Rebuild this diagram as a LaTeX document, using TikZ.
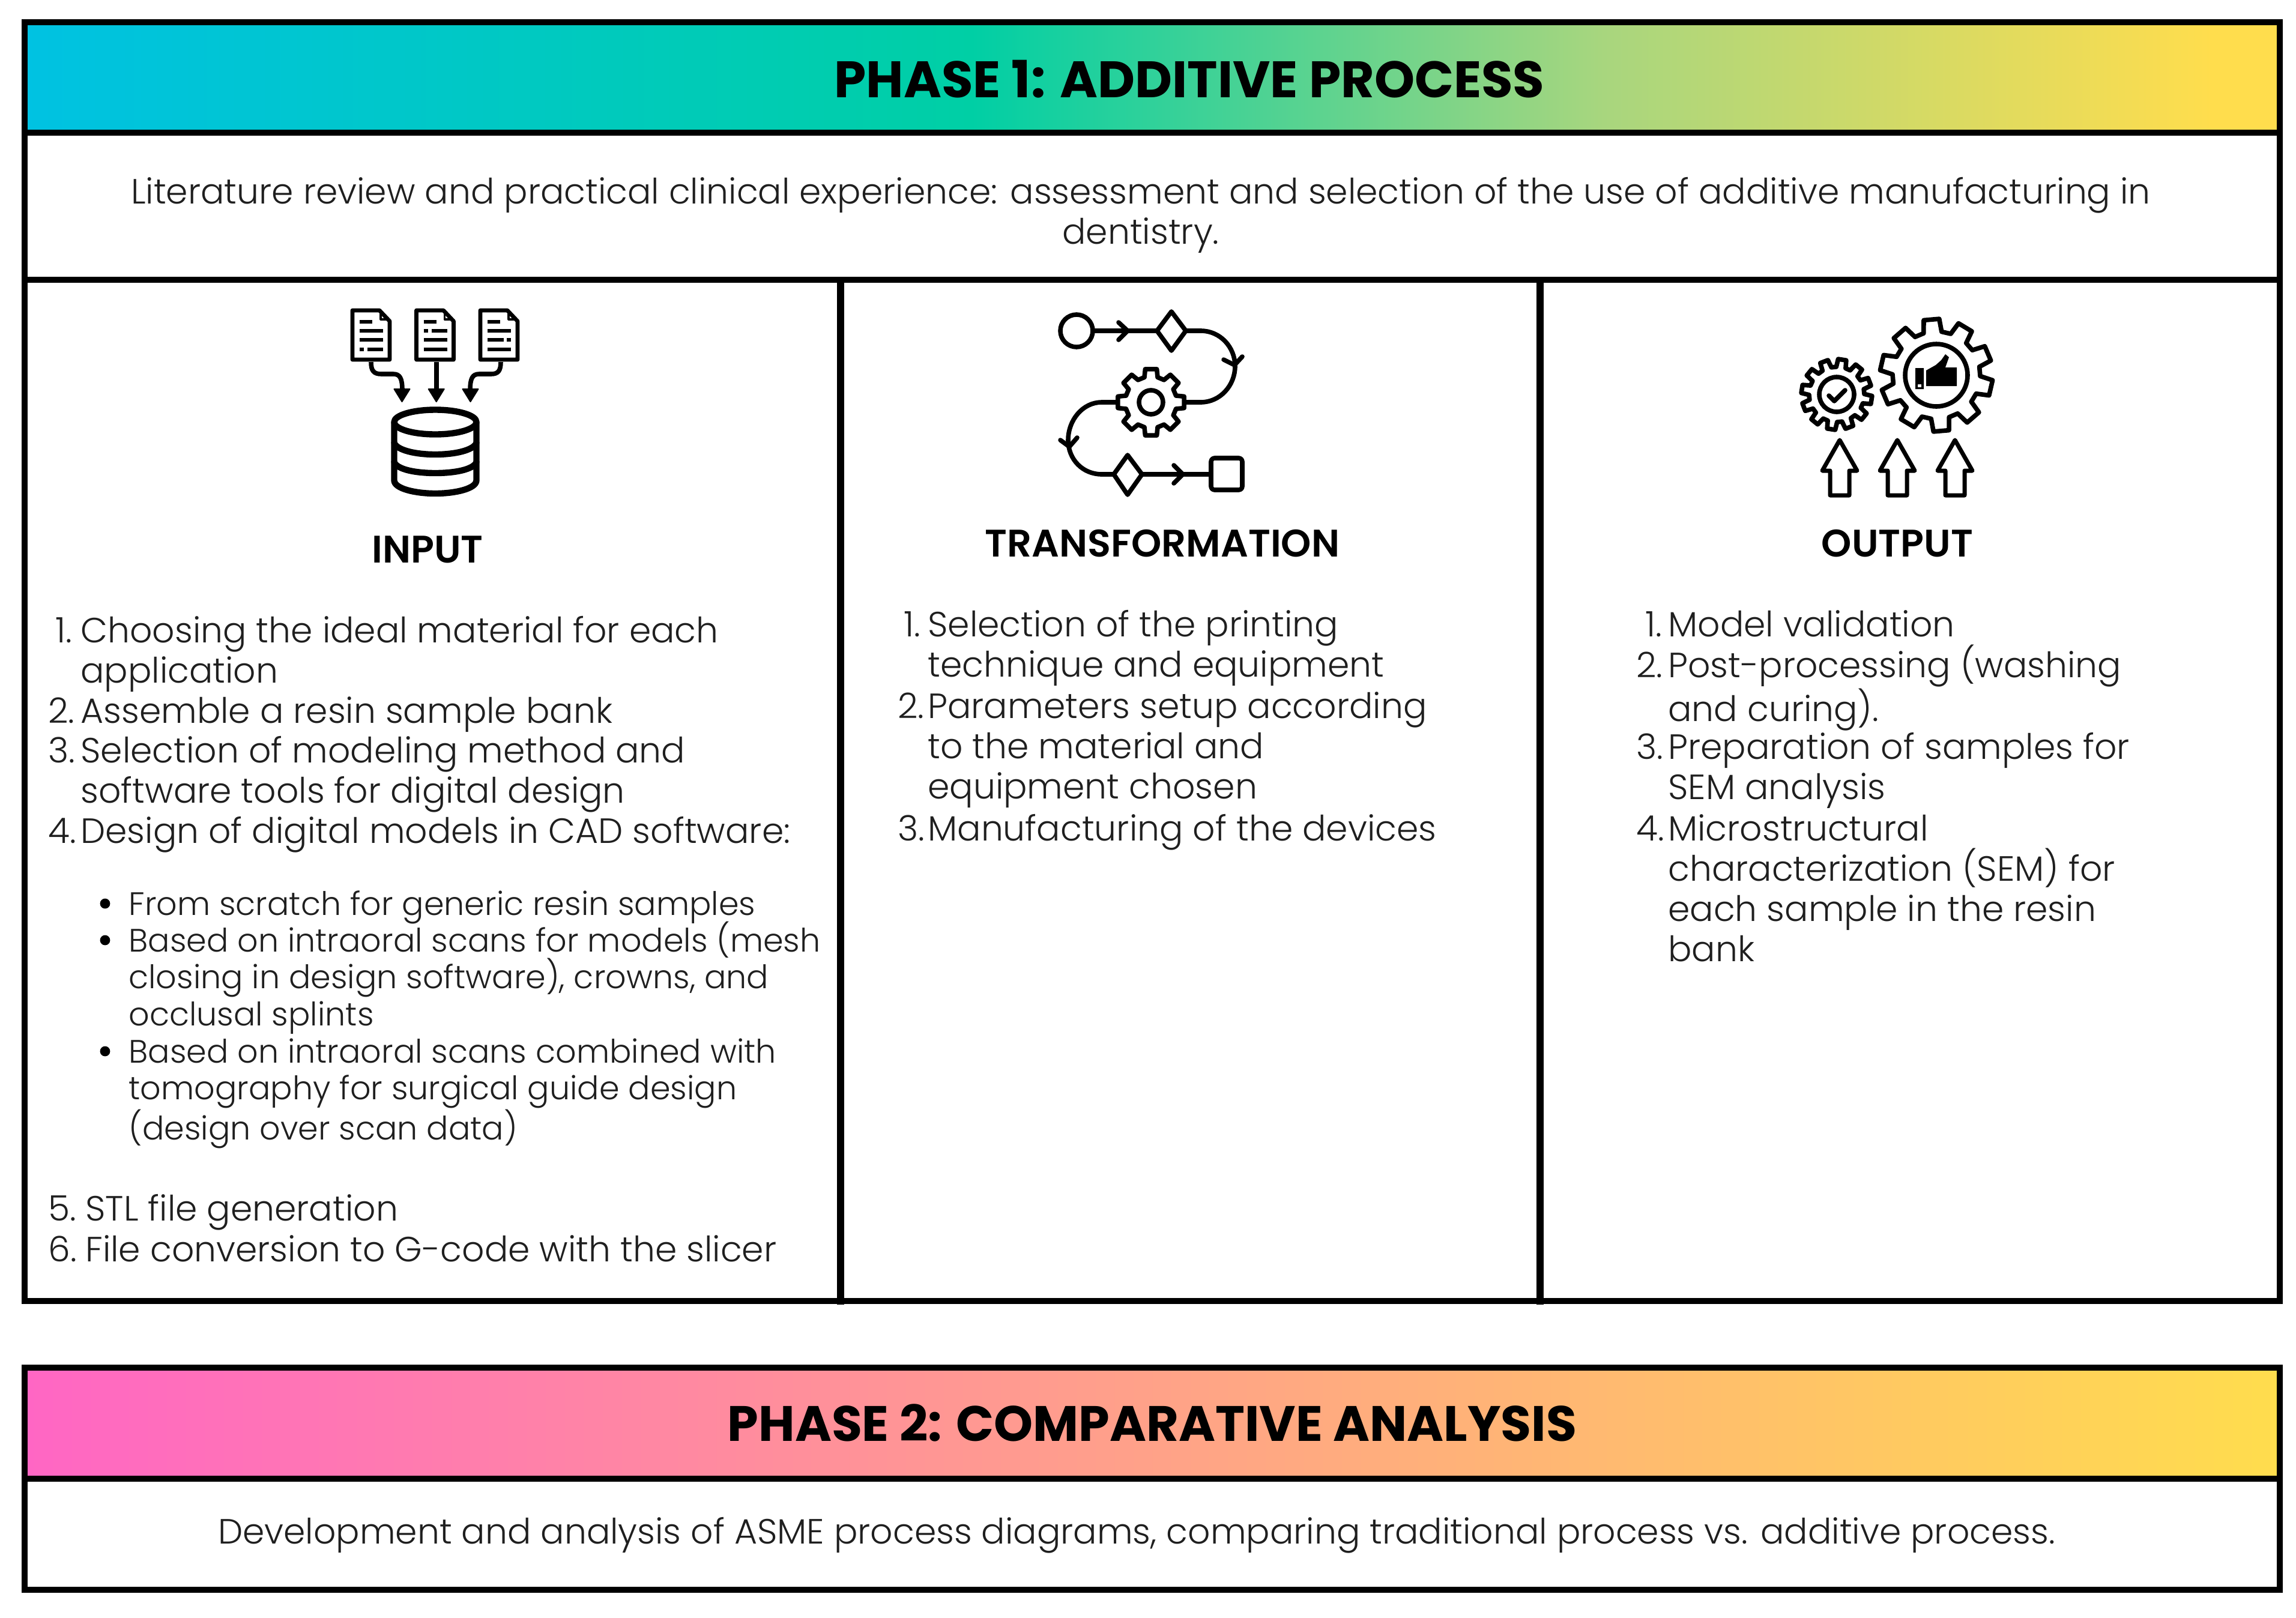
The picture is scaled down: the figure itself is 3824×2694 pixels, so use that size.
\documentclass[tikz,border=0pt]{standalone}
\usepackage{fontspec}
\setmainfont{Poppins}[UprightFont={* Light},BoldFont={* SemiBold}]
\newfontfamily\headfont{Poppins}[UprightFont={* Bold}]
\newfontfamily\subfont{Poppins}[UprightFont={* SemiBold}]
\usetikzlibrary{calc}
\definecolor{aCyan}{HTML}{00C2E2}
\definecolor{aGreen}{HTML}{00CFA5}
\definecolor{aLime}{HTML}{A8D67E}
\definecolor{aYellow}{HTML}{FFDD4D}
\definecolor{bPink}{HTML}{FF66C4}
\pgfdeclarehorizontalshading{phaseone}{100bp}{color(0bp)=(aCyan); color(25bp)=(aCyan); color(46bp)=(aGreen); color(60bp)=(aLime); color(73.5bp)=(aYellow); color(100bp)=(aYellow)}
\pgfdeclarehorizontalshading{phasetwo}{100bp}{color(0bp)=(bPink); color(25bp)=(bPink); color(75bp)=(aYellow); color(100bp)=(aYellow)}
\tikzset{
  x=0.5pt,y=-0.5pt,
  frameline/.style={line width=5pt,black,line cap=butt},
  icon/.style={line width=3.8pt,black,line join=round,line cap=round},
  thinicon/.style={line width=3.4pt,black,line join=round,line cap=butt},
  bodytext/.style={font=\fontsize{29.2}{33.5}\selectfont,inner sep=0pt,anchor=north west,align=left,text=black!88},
  bullettext/.style={bodytext,font=\fontsize{27}{30.7}\selectfont},
  centertext/.style={inner sep=0pt,font=\fontsize{29.2}{33.5}\selectfont,align=center,text=black!88},
  headtext/.style={inner sep=0pt,font=\headfont\fontsize{42}{48}\selectfont},
  subtext/.style={inner sep=0pt,font=\subfont\fontsize{32}{38}\selectfont}
}
% numbered item: name, number x, text x, first-line centre y, number, text
\newcommand{\listitem}[6]{%
  \node[bodytext] (#1n) at (#2,#4-37) {\rule{0pt}{1em}#5};
  \node[bodytext] (#1) at (#3,#4-37) {\rule{0pt}{1em}#6};}
\newcommand{\bulletitem}[4]{%
  \fill (#2-39,#3) circle (4.2pt);
  \node[bullettext] (#1) at (#2,#3-35) {\rule{0pt}{1em}#4};}
% gear: cx, cy, outer r, inner r, teeth, rotation
\newcommand{\gearshape}[6]{%
  \pgfmathsetmacro{\gstep}{360/#5}
  \draw[icon] ($(#1,#2)+({#6-0.22*\gstep}:#3)$)
    \foreach \k in {1,...,#5}{
      -- ($(#1,#2)+({#6+(\k-1)*\gstep-0.22*\gstep}:#3)$)
      -- ($(#1,#2)+({#6+(\k-1)*\gstep+0.22*\gstep}:#3)$)
      -- ($(#1,#2)+({#6+(\k-1)*\gstep+0.33*\gstep}:#4)$)
      -- ($(#1,#2)+({#6+(\k-1)*\gstep+0.67*\gstep}:#4)$)
    } -- cycle;}
% document icon outline: left x, top y
\newcommand{\docicon}[2]{%
  \draw[thinicon] (#1,#2) -- (#1+45,#2) -- (#1+62,#2+18) -- (#1+62,#2+82) -- (#1,#2+82) -- cycle;
  \draw[icon,line width=1.6pt] (#1+47,#2+6) -- (#1+47,#2+15) -- (#1+56,#2+15);
  \draw[thinicon] (#1+12,#2+19) -- (#1+33,#2+19);}
% full text line of the document icons
\newcommand{\docline}[3]{\draw[thinicon] (#1,#3) -- (#2,#3);}
\begin{document}
\begin{tikzpicture}
\useasboundingbox (0,0) rectangle (3824,2694);
\fill[white] (0,0) rectangle (3824,2694);
% gradients
\shade[shading=phaseone] (41,37) rectangle (3797,220);
\shade[shading=phasetwo] (41,2278) rectangle (3797,2462);
% frames
\draw[frameline] (41,37) rectangle (3797,2166.5);
\draw[frameline] (41,2278) rectangle (3797,2648);
\draw[frameline] (38,220.5) -- (3801,220.5);
\draw[frameline] (38,465.5) -- (3801,465.5);
\draw[frameline] (38,2462.5) -- (3801,2462.5);
\draw[frameline,line width=6pt] (1400,465) -- (1400,2173);
\draw[frameline,line width=6pt] (2565,465) -- (2565,2173);
% titles
\node[headtext,font=\headfont\fontsize{42.7}{48}\selectfont] (p1) at (1981,132) {PHASE 1: ADDITIVE PROCESS};
\node[headtext,font=\headfont\fontsize{41.4}{48}\selectfont] (p2) at (1919,2370) {PHASE 2: COMPARATIVE ANALYSIS};
\node[centertext] (lit) at (1900,358) {Literature review and practical clinical experience: assessment and selection of the use of additive manufacturing in\\dentistry.};
\node[centertext] (dev) at (1893,2557) {Development and analysis of ASME process diagrams, comparing traditional process vs. additive process.};
\node[subtext] (in) at (712,915) {INPUT};
\node[subtext] (tr) at (1936,905) {TRANSFORMATION};
\node[subtext] (ou) at (3160,905) {OUTPUT};
% INPUT list
\listitem{i1}{92}{134}{1049}{1.}{Choosing the ideal material for each\\application}
\listitem{i2}{80}{134}{1183}{2.}{Assemble a resin sample bank}
\listitem{i3}{80}{134}{1249}{3.}{Selection of modeling method and\\software tools for digital design}
\listitem{i4}{80}{134}{1383}{4.}{Design of digital models in CAD software:}
\bulletitem{b1}{214}{1505}{From scratch for generic resin samples}
\bulletitem{b2}{214}{1566}{Based on intraoral scans for models (mesh\\closing in design software), crowns, and\\occlusal splints}
\bulletitem{b3}{214}{1751}{Based on intraoral scans combined with\\tomography for surgical guide design\\(design over scan data)}
\listitem{i5}{80}{142}{2012}{5.}{STL file generation}
\listitem{i6}{80}{142}{2080}{6.}{File conversion to G-code with the slicer}
% TRANSFORMATION list
\listitem{t1}{1505}{1545}{1039}{1.}{Selection of the printing\\technique and equipment}
\listitem{t2}{1495}{1545}{1175}{2.}{Parameters setup according\\to the material and\\equipment chosen}
\listitem{t3}{1495}{1545}{1379}{3.}{Manufacturing of the devices}
% OUTPUT list
\listitem{o1}{2740}{2778}{1039}{1.}{Model validation}
\listitem{o2}{2725}{2778}{1107}{2.}{Post-processing (washing\\and curing).}
\listitem{o3}{2725}{2778}{1243}{3.}{Preparation of samples for\\SEM analysis}
\listitem{o4}{2725}{2778}{1379}{4.}{Microstructural\\characterization (SEM) for\\each sample in the resin\\bank}
% --- input icon
\docicon{587}{517}
\docicon{693.5}{517}
\docicon{800}{517}
% doc 1 lines
\docline{599}{638}{551}\docline{599}{638}{566}\docline{599}{606}{582}\docline{612}{638}{582}
% doc 2 lines
\docline{705.5}{713}{551}\docline{719}{745}{551}\docline{705.5}{745}{566}\docline{705.5}{745}{582}
% doc 3 lines
\docline{812}{851}{551}\docline{812}{839}{566}\docline{844}{851}{566}\docline{812}{851}{582}
% arrows to the cylinder
\draw[icon,line cap=butt] (618,603) .. controls (618,617) and (622,623) .. (635,623) -- (655,623) .. controls (666,623) and (670,630) .. (670,650);
\draw[icon,line cap=butt] (726.7,603) -- (726.7,650);
\draw[icon,line cap=butt] (834,603) .. controls (834,617) and (830,623) .. (818,623) -- (798,623) .. controls (787,623) and (783,630) .. (783,650);
\foreach \ax in {669.5,726.7,783.5}{
  \fill[line join=round,draw=black,line width=1pt] (\ax-13,648) -- (\ax+13,648) -- (\ax,669) -- cycle;}
% cylinder
\draw[icon,line width=5.2pt] (725,703) ellipse [x radius=68.5, y radius=20.5];
\draw[icon,line width=5.2pt] (656.5,703) -- (656.5,800) .. controls (656.5,814) and (692,822) .. (725,822) .. controls (758,822) and (793.5,814) .. (793.5,800) -- (793.5,703);
\draw[icon,line width=5.2pt] (656.5,738) .. controls (662,750) and (692,757) .. (725,757) .. controls (758,757) and (788,750) .. (793.5,738);
\draw[icon,line width=5.2pt] (656.5,770) .. controls (662,782) and (692,788) .. (725,788) .. controls (758,788) and (788,782) .. (793.5,770);
% --- transformation icon
\draw[icon] (1793,551) circle (13.5pt);
\draw[icon] (1820,551) -- (1925,551);
\draw[icon] (1863,537) -- (1878,551) -- (1863,566);
\draw[icon,fill=white] (1951,519) -- (1975,551) -- (1951,584) -- (1927,551) -- cycle;
\draw[icon] (1975,551) -- (2000,551) .. controls (2032,551) and (2057,578) .. (2057,610) .. controls (2057,642) and (2032,670) .. (2000,670) -- (1975,670);
\draw[icon] (2038,599) -- (2056,608) -- (2069,594);
\gearshape{1917}{670}{56}{43}{8}{0}
\draw[icon] (1917,670) circle (10pt);
\draw[icon] (1859,670) -- (1835,670) .. controls (1803,670) and (1779,700) .. (1779,733) .. controls (1779,765) and (1803,790) .. (1835,790) -- (1855,790);
\draw[icon] (1766,733) -- (1781,744) -- (1794,729);
\draw[icon,fill=white] (1878,758) -- (1902,790) -- (1878,824) -- (1855,790) -- cycle;
\draw[icon] (1902,790) -- (2017,790);
\draw[icon] (1955,775) -- (1970,790) -- (1955,805);
\draw[icon,rounded corners=3pt] (2017,763) rectangle (2069,816);
% --- output icon
\gearshape{3059}{657}{59}{46}{12}{9}
\draw[icon] (3059,657) circle (14.5pt);
\draw[icon] (3046,659) -- (3055,668) -- (3073,650);
\gearshape{3225}{625}{94}{73}{10}{13}
\draw[icon] (3225,625) circle (26pt);
\fill[even odd rule] (3190,613) rectangle (3204,648) (3194,640) rectangle (3200,645);
\fill (3208,617) -- (3224,608) -- (3233,600) -- (3240,590) -- (3246,595) -- (3240,612) -- (3259,612) -- (3259,643) -- (3208,643) -- cycle;
\foreach \ax in {3064,3160,3256}{
  \draw[icon,line width=3.5pt] (\ax,733) -- (\ax+29,784) -- (\ax+16,784) -- (\ax+16,825) -- (\ax-16,825) -- (\ax-16,784) -- (\ax-29,784) -- cycle;}
\end{tikzpicture}
\end{document}
